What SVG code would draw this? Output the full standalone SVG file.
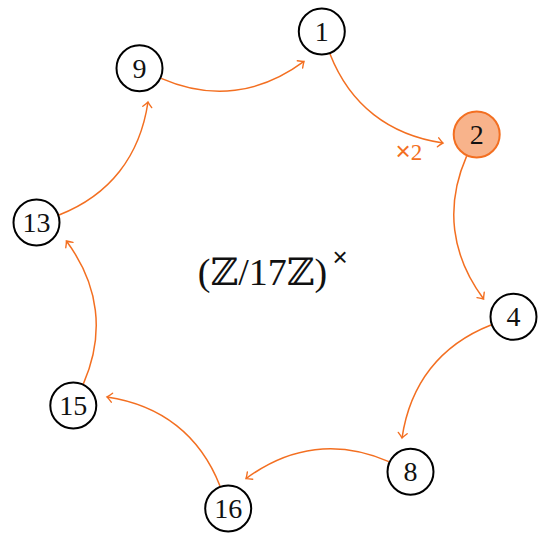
<svg xmlns="http://www.w3.org/2000/svg" width="538" height="536" viewBox="0 0 538 536">
<style>
.node circle{fill:#fff;stroke:#000;stroke-width:2}
.node text{font-family:"Liberation Serif","DejaVu Serif",serif;font-size:28px;text-anchor:middle;fill:#111}
.edge{fill:none;stroke:#f36f21;stroke-width:1.5;marker-end:url(#arr)}
.lbl{font-family:"Liberation Serif","DejaVu Serif",serif;font-size:23px;fill:#f36f21}
.times{font-family:"Liberation Sans","DejaVu Sans",sans-serif;font-size:26px}
</style>
<defs>
<marker id="arr" markerUnits="userSpaceOnUse" viewBox="-8 -6 10 12" refX="0" refY="0" markerWidth="10" markerHeight="12" orient="auto">
<path d="M-5,-4.5 Q-1.5,-1 0,0 Q-1.5,1 -5,4.5" fill="none" stroke="#f36f21" stroke-width="1.4" stroke-linecap="round"/>
</marker>
</defs>
<rect width="538" height="536" fill="#fff"/>
<g id="edges">
<path id="e1-2" class="edge" d="M330,54 C350,105 389,135 443,143"/>
<path id="e2-4" class="edge" d="M330,54 C350,105 389,135 443,143" transform="rotate(45 275 270)"/>
<path id="e4-8" class="edge" d="M330,54 C350,105 389,135 443,143" transform="rotate(90 275 270)"/>
<path id="e8-16" class="edge" d="M330,54 C350,105 389,135 443,143" transform="rotate(135 275 270)"/>
<path id="e16-15" class="edge" d="M330,54 C350,105 389,135 443,143" transform="rotate(180 275 270)"/>
<path id="e15-13" class="edge" d="M330,54 C350,105 389,135 443,143" transform="rotate(225 275 270)"/>
<path id="e13-9" class="edge" d="M330,54 C350,105 389,135 443,143" transform="rotate(270 275 270)"/>
<path id="e9-1" class="edge" d="M330,54 C350,105 389,135 443,143" transform="rotate(315 275 270)"/>
<text class="lbl" x="395.5" y="160"><tspan class="times">×</tspan><tspan>2</tspan></text>
</g>
<g id="n1" class="node"><circle cx="321.8" cy="31.5" r="23"/><text x="321.8" y="41">1</text></g>
<g id="n2" class="node"><circle cx="476.7" cy="134.5" r="23" style="fill:#f8b38b;stroke:#f36f21"/><text x="476.7" y="144">2</text></g>
<g id="n4" class="node"><circle cx="513.5" cy="316.8" r="23"/><text x="513.5" y="326.3">4</text></g>
<g id="n8" class="node"><circle cx="410.5" cy="471.7" r="23"/><text x="410.5" y="481.2">8</text></g>
<g id="n16" class="node"><circle cx="228.2" cy="508.5" r="23"/><text x="228.2" y="518">16</text></g>
<g id="n15" class="node"><circle cx="73.3" cy="405.5" r="23"/><text x="73.3" y="415">15</text></g>
<g id="n13" class="node"><circle cx="36.5" cy="222.5" r="23"/><text x="36.5" y="232">13</text></g>
<g id="n9" class="node"><circle cx="139.5" cy="68.3" r="23"/><text x="139.5" y="77.8">9</text></g>
<g id="title">
<text x="262.5" y="285" font-family="Liberation Serif,DejaVu Serif,serif" font-size="38" text-anchor="middle" fill="#111">(ℤ/17ℤ)</text>
<text x="340" y="265.5" font-family="Liberation Sans,DejaVu Sans,sans-serif" font-size="26" text-anchor="middle" fill="#111">×</text>
</g>
</svg>
